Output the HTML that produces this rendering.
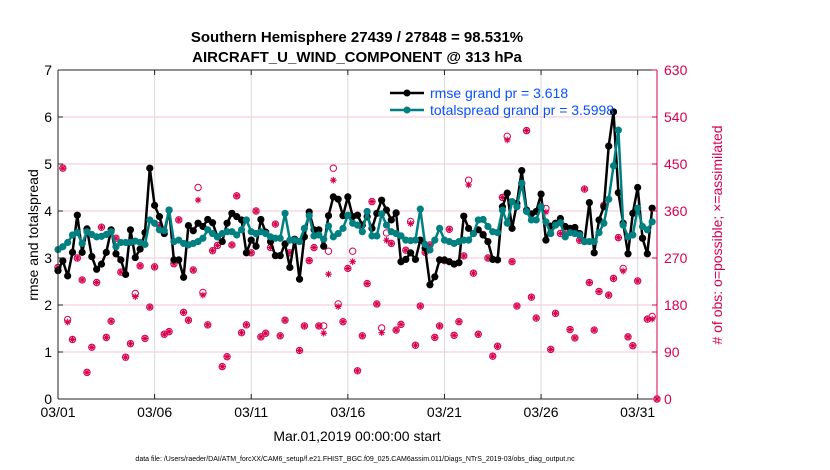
<!DOCTYPE html>
<html><head><meta charset="utf-8"><style>
body{margin:0;background:#fff;}
svg{display:block;font-family:"Liberation Sans",Arial,sans-serif;}
</style></head><body>
<svg id="chart" width="830" height="470" viewBox="0 0 830 470" xmlns="http://www.w3.org/2000/svg">
<rect x="0" y="0" width="830" height="470" fill="#fff"/>
<text x="357" y="42" text-anchor="middle" font-size="15" font-weight="bold">Southern Hemisphere 27439 / 27848 = 98.531%</text>
<text x="357" y="62" text-anchor="middle" font-size="15" font-weight="bold">AIRCRAFT_U_WIND_COMPONENT @ 313 hPa</text>
<g id="grid"></g>
<g id="marks"></g>
<g id="axes"></g>
<text transform="translate(38,235) rotate(-90)" text-anchor="middle" font-size="14">rmse and totalspread</text>
<text transform="translate(722,235) rotate(-90)" text-anchor="middle" font-size="14" fill="#d6004f"># of obs: o=possible; ×=assimilated</text>
<text x="357" y="441" text-anchor="middle" font-size="14">Mar.01,2019 00:00:00 start</text>
<text x="355" y="461" text-anchor="middle" font-size="7">data file: /Users/raeder/DAI/ATM_forcXX/CAM6_setup/f.e21.FHIST_BGC.f09_025.CAM6assim.011/Diags_NTrS_2019-03/obs_diag_output.nc</text>
<g>
<line x1="390" y1="93" x2="424" y2="93" stroke="#000" stroke-width="2.5"/>
<circle cx="407" cy="93" r="3.5" fill="#000"/>
<text x="430" y="98" font-size="14" fill="#0a50ff">rmse grand pr = 3.618</text>
<line x1="390" y1="110" x2="424" y2="110" stroke="#008080" stroke-width="2.5"/>
<circle cx="407" cy="110" r="3.5" fill="#008080"/>
<text x="430" y="115" font-size="14" fill="#0a50ff">totalspread grand pr = 3.5998</text>
</g>
</svg>
<script>
const rmse = [2.73,2.94,2.62,3.12,3.91,3.12,3.62,3.03,2.76,2.87,3.12,3.60,3.09,2.96,2.65,3.60,3.01,3.19,3.54,4.91,4.12,
3.88,3.52,4.02,2.96,2.96,2.59,3.69,3.58,3.74,3.67,3.82,3.75,3.45,3.35,3.74,3.95,3.88,3.81,3.11,3.38,
3.25,3.82,3.55,3.35,3.05,3.05,3.30,2.80,3.40,2.55,3.45,3.98,3.60,3.60,3.25,3.90,4.30,4.25,3.90,4.30,
3.88,3.91,3.70,3.88,3.63,3.95,4.23,4.02,3.81,3.96,2.92,2.97,3.11,2.97,3.38,3.21,2.43,2.60,2.96,2.96,
2.92,2.87,2.90,3.89,3.63,3.52,3.60,3.49,3.35,2.97,2.96,4.09,4.38,3.63,4.16,4.86,4.02,3.94,3.99,4.36,
3.38,3.68,3.74,3.84,3.67,3.63,3.65,3.52,3.35,4.18,3.11,3.81,4.09,5.38,6.11,4.39,3.74,3.09,3.95,4.50,3.42,3.09,4.06,null];
const spread = [3.18,3.24,3.33,3.49,3.54,3.31,3.56,3.50,3.45,3.46,3.50,3.56,3.24,3.33,3.33,3.33,3.36,3.33,3.29,3.81,3.74,
3.60,3.58,4.02,3.35,3.38,3.31,3.28,3.31,3.35,3.42,3.60,3.52,3.45,3.52,3.56,3.56,3.49,3.60,3.81,3.56,
3.52,3.56,3.52,3.45,3.42,3.42,3.95,3.38,3.38,3.35,3.63,3.90,3.47,3.49,3.40,3.68,3.45,3.52,3.63,3.91,
3.74,3.70,3.56,3.99,3.47,3.47,3.94,3.70,3.56,3.52,3.47,3.38,3.37,3.38,4.04,3.29,3.17,3.38,3.63,3.38,
3.35,3.31,3.35,3.38,3.38,3.52,3.81,3.82,3.67,3.56,3.54,4.02,3.74,4.20,4.09,4.59,3.99,3.81,3.81,4.09,
3.77,3.52,3.70,3.75,3.45,3.54,3.52,3.49,3.35,3.35,3.35,3.54,3.74,4.25,4.96,5.72,3.70,3.45,3.49,4.06,3.67,3.60,3.77,null];
const obsAssim = [252,442,147,114,270,228,51,99,223,329,118,149,308,243,80,106,196,255,116,176,253,
332,124,129,259,343,166,151,247,381,199,142,284,294,62,81,295,389,127,142,280,
360,119,126,290,335,121,151,280,303,93,140,265,290,140,126,239,419,177,148,250,
263,54,121,221,378,182,127,304,298,132,143,285,336,103,178,281,295,118,140,265,
325,122,148,274,410,241,124,315,270,82,101,386,496,263,178,413,514,195,155,368,
358,95,164,317,316,133,117,304,402,223,132,206,371,199,231,309,245,119,102,226,308,153,153,0];
const obsPossible = [252,442,152,114,270,228,51,99,223,329,118,149,308,243,80,106,202,255,116,176,253,
332,124,129,259,343,166,151,247,405,204,142,284,294,62,81,295,389,127,142,280,
360,119,126,290,335,121,151,280,303,93,140,265,290,140,140,283,442,182,148,250,
283,54,121,221,378,182,136,318,298,132,143,285,340,103,178,281,295,118,140,265,
325,122,148,274,419,241,124,315,270,82,101,386,503,263,178,413,514,195,155,368,
365,95,164,317,316,133,117,304,402,223,132,206,371,199,231,309,250,119,102,226,308,153,158,0];
const xTickLabels = ["03/01","03/06","03/11","03/16","03/21","03/26","03/31"];
const xTickDays = [0,5,10,15,20,25,30];
const yLeftTicks = [0,1,2,3,4,5,6,7];
const yRightTicks = [0,90,180,270,360,450,540,630];

const L=58,R=657,T=70,B=399;
const ns="http://www.w3.org/2000/svg";
const xDay = d => L + (R-L)*d/31;
const xIdx = i => xDay(i/4);
const yL = v => B - (B-T)*v/7;
const yR = v => B - (B-T)*v/630;
function mk(tag, attrs, parent){const e=document.createElementNS(ns,tag);for(const k in attrs)e.setAttribute(k,attrs[k]);parent.appendChild(e);return e;}
const grid=document.getElementById('grid'), marks=document.getElementById('marks'), axes=document.getElementById('axes');

yLeftTicks.forEach(v=>{ if(v>0&&v<7){const l=mk('line',{x1:L,x2:R,y1:yL(v),y2:yL(v),stroke:'#f4c6d8','stroke-width':1},grid);

}});
xTickDays.forEach(d=>{ if(d>0){const l=mk('line',{x1:xDay(d),x2:xDay(d),y1:T,y2:B,stroke:'#d9d9d9','stroke-width':1},grid);

}});

// obs markers
const crim='#d6004f';
obsPossible.forEach((v,i)=>{ if(v===null)return;
 const c=mk('circle',{cx:xIdx(i),cy:yR(v),r:3.2,fill:'none',stroke:crim,'stroke-width':1},marks);
 
 });
obsAssim.forEach((v,i)=>{ if(v===null)return;
 const x=xIdx(i), y=yR(v), s=3.3;
 const g=mk('path',{d:`M${x-s},${y}H${x+s}M${x},${y-s}V${y+s}M${x-s*0.7},${y-s*0.7}L${x+s*0.7},${y+s*0.7}M${x-s*0.7},${y+s*0.7}L${x+s*0.7},${y-s*0.7}`,stroke:crim,'stroke-width':1.1,fill:'none'},marks);
 
 });

function series(vals,color,name){
 let d='';let pen=false;
 vals.forEach((v,i)=>{ if(v===null){pen=false;return;} d+=(pen?'L':'M')+xIdx(i).toFixed(1)+','+yL(v).toFixed(1);pen=true;});
 const p=mk('path',{d:d,stroke:color,'stroke-width':2.5,fill:'none','stroke-linejoin':'round'},marks);
 
 
 vals.forEach((v,i)=>{ if(v===null)return;
  const c=mk('circle',{cx:xIdx(i),cy:yL(v),r:3.6,fill:color},marks);
  
  });
}
series(rmse,'#000','rmse');
series(spread,'#008080','totalspread');

// axes frame
mk('line',{x1:L,x2:R,y1:T,y2:T,stroke:'#222','stroke-width':1},axes);
mk('line',{x1:L,x2:R,y1:B,y2:B,stroke:'#222','stroke-width':1},axes);
mk('line',{x1:L,x2:L,y1:T,y2:B,stroke:'#222','stroke-width':1},axes);
mk('line',{x1:R,x2:R,y1:T,y2:B,stroke:crim,'stroke-width':1},axes);
yLeftTicks.forEach(v=>{
 mk('line',{x1:L,x2:L+5,y1:yL(v),y2:yL(v),stroke:'#222'},axes);
 const t=mk('text',{x:L-6,y:yL(v)+5,'text-anchor':'end','font-size':14},axes);
 t.textContent=v;
 
 });
yRightTicks.forEach(v=>{
 mk('line',{x1:R-5,x2:R,y1:yR(v),y2:yR(v),stroke:crim},axes);
 const t=mk('text',{x:R+7,y:yR(v)+5,'text-anchor':'start','font-size':14,fill:crim},axes);
 t.textContent=v;
 
 });
xTickDays.forEach((d,k)=>{
 mk('line',{x1:xDay(d),x2:xDay(d),y1:B,y2:B-5,stroke:'#222'},axes);
 mk('line',{x1:xDay(d),x2:xDay(d),y1:T,y2:T+5,stroke:'#222'},axes);
 const t=mk('text',{x:xDay(d),y:B+18,'text-anchor':'middle','font-size':14},axes);
 t.textContent=xTickLabels[k];
 
 });
</script>
</body></html>
